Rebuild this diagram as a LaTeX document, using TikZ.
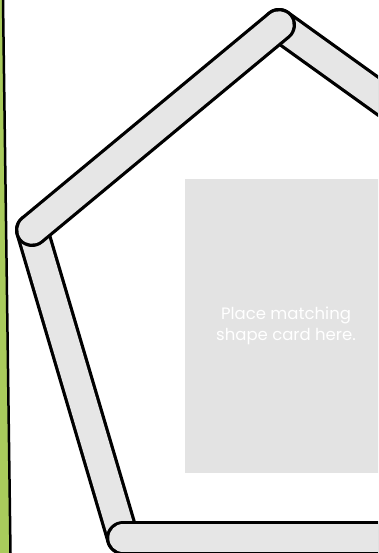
\documentclass[tikz,border=0pt]{standalone}
\usepackage{fontspec}
\newfontfamily\cardfont{Poppins}
\definecolor{stickfill}{HTML}{E6E6E6}
\definecolor{cardfill}{HTML}{E3E3E3}
\definecolor{stripgreen}{HTML}{A9CB5C}
\tikzset{
  stickout/.style={line width=34pt, line cap=round, draw=black},
  stickin/.style={line width=27.5pt, line cap=round, draw=stickfill},
  cardtext/.style={text=white, align=center, font=\cardfont\fontsize{16.5}{21}\selectfont}
}
\begin{document}
\begin{tikzpicture}[x=1pt, y=-1pt]
\useasboundingbox (0,0) rectangle (378,553);
\clip (0,0) rectangle (378,553);
\fill[white] (0,0) rectangle (378,553);
% green strip
\fill[stripgreen] (0,0) -- (3,0) -- (10.5,553) -- (0,553) -- cycle;
\draw[black, line width=2.5pt] (3,0) -- (10.5,553);
% vertices
\coordinate (L) at (32,230);
\coordinate (T) at (279,25);
\coordinate (R) at (520,198);
\coordinate (B) at (123,538);
\coordinate (BR) at (520,538);
% card
\node[fill=cardfill, minimum width=200pt, minimum height=294pt, anchor=north west, inner sep=0pt] (card) at (185,179) {};
\node[cardtext] (label) at (286,326) {Place matching\\shape card here.};
% stick 2 (top right)
\draw[stickout] (T) -- (R);
\draw[stickin] (T) -- (R);
% stick 3 (left)
\draw[stickout] (L) -- (B);
\draw[stickin] (L) -- (B);
% stick 4 (bottom)
\draw[stickout] (B) -- (BR);
\draw[stickin] (B) -- (BR);
% stick 1 (top left)
\draw[stickout] (L) -- (T);
\draw[stickin] (L) -- (T);
\end{tikzpicture}
\end{document}
